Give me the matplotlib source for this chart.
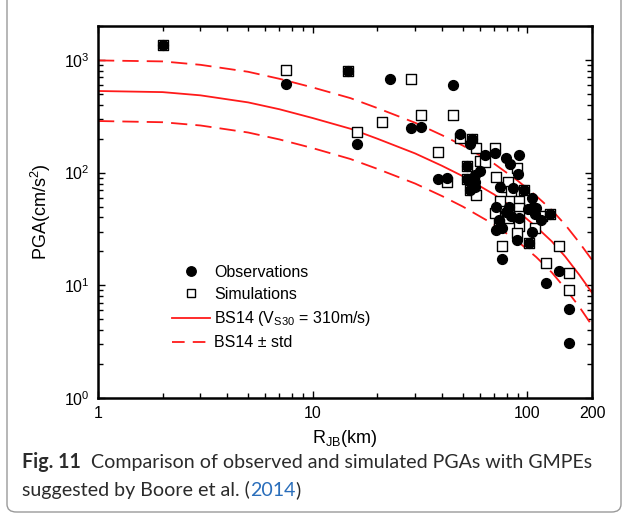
# PGA vs Joyner-Boore distance
# Observed and simulated PGAs against the BS14 GMPE (Boore et al. 2014)

import matplotlib
matplotlib.use("Agg")
import matplotlib.pyplot as plt
from matplotlib.lines import Line2D
from matplotlib.legend_handler import HandlerLine2D
from matplotlib.patches import FancyBboxPatch
from matplotlib.ticker import LogLocator, NullFormatter

# ─── DATA ─────────────────────────────────────────────────────
# BS14 median and +/- one standard deviation
GMPE_R      = [1, 2, 3, 5, 7, 10, 15, 20, 30, 40, 50, 70, 90, 110, 130, 150, 175, 200]
GMPE_MEDIAN = [530, 518, 485, 420, 365, 305, 245, 200, 148, 115, 93, 64, 45.5, 33, 24.5, 18, 12.3, 8.6]
GMPE_UPPER  = [990, 970, 905, 785, 680, 570, 458, 374, 277, 215, 174, 120, 85, 62, 46.5, 34.5, 23.8, 16.8]
GMPE_LOWER  = [287, 280, 262, 227, 197, 165, 132, 108, 80, 62, 50, 34.6, 24.6, 17.8, 13, 9.4, 6.4, 4.4]

# observations (filled circles)
OBS_R   = [2.0, 7.5, 14.6, 16.0, 22.8, 28.7, 32.0, 45.0, 48.3, 55.0, 54.3, 38.3, 42.3,
           71, 63.8, 79.6, 91.2, 83.2, 90, 52.4, 60.4, 57, 57, 52.4, 74.9, 85.6, 96.8,
           53.8, 57, 105, 71.5, 82, 100.6, 106, 110, 79.6, 84, 91.7, 108.8, 127, 115.6,
           74, 76.3, 71.5, 104.6, 89.6, 101.4, 76.3, 140, 122, 157, 157]
OBS_PGA = [1360, 610, 800, 180, 680, 247, 252, 597, 220, 197, 179, 88, 89,
           149, 143, 135, 143, 119, 97, 114, 104, 95, 82, 87, 75, 73, 70,
           70, 74, 60, 49.3, 50, 47.7, 50, 48.7, 44.6, 40.8, 39.7, 43, 42.5, 37.6,
           37.6, 32, 30.7, 30, 25.4, 23.7, 17.2, 13.3, 10.4, 6.1, 3.1]

# simulations (open squares)
SIM_R   = [2.0, 7.5, 14.6, 16.0, 21.0, 28.7, 32.0, 45.0, 48.3, 55.0, 57.7, 38.3, 42.3,
           71, 60.4, 63.8, 89.6, 52.4, 52.4, 71.5, 79.6, 81, 83.5, 96.8, 53.8, 57.7,
           74.7, 91, 91, 71, 81, 91.7, 116.9, 127, 74, 91.7, 89.6, 108, 101.4, 76.3,
           140, 122, 157, 157]
SIM_PGA = [1360, 816, 800, 227, 280, 675, 324, 324, 203, 197, 164, 151, 82,
           164, 128, 125, 111, 114, 87, 92, 75, 83, 68, 70, 70, 63,
           56.5, 56.5, 49, 43.6, 39.7, 41.6, 41.6, 42.5, 35, 33.3, 29.3, 32, 23.7, 22.1,
           22.1, 15.9, 12.9, 9.0]

# ─── STYLE ────────────────────────────────────────────────────
plt.rcParams["font.family"] = ["Liberation Sans", "DejaVu Sans"]
plt.rcParams["mathtext.fontset"] = "custom"
plt.rcParams["mathtext.rm"] = "Liberation Sans"
plt.rcParams["mathtext.it"] = "Liberation Sans:italic"
plt.rcParams["mathtext.default"] = "regular"

W, H = 626, 521
RED = "#ff1a1a"
DASH = (9, 4.5)

fig = plt.figure(figsize=(W / 100, H / 100), dpi=100)

# light rounded frame around the figure block
frame = FancyBboxPatch((7 / W, 9 / H), 614 / W, 560 / H,
                       boxstyle="round,pad=0,rounding_size=0.015",
                       transform=fig.transFigure, facecolor="none",
                       edgecolor="#9a9a9a", linewidth=1.0, clip_on=False)
fig.patches.append(frame)

ax = fig.add_axes([98 / W, 1 - 398 / H, 494 / W, 372 / H])

# ─── PLOT ─────────────────────────────────────────────────────
ax.plot(GMPE_R, GMPE_MEDIAN, color=RED, linewidth=1.3)
ax.plot(GMPE_R, GMPE_UPPER, color=RED, linewidth=1.3, dashes=DASH)
ax.plot(GMPE_R, GMPE_LOWER, color=RED, linewidth=1.3, dashes=DASH)

ax.scatter(SIM_R, SIM_PGA, marker="s", s=46, facecolor="white",
           edgecolor="black", linewidth=1.0, zorder=3)
ax.scatter(OBS_R, OBS_PGA, marker="o", s=50, color="black", zorder=4)

ax.set_xscale("log")
ax.set_yscale("log")
ax.set_xlim(1, 200)
ax.set_ylim(1, 2000)

ax.set_xticks([1, 10, 100, 200])
ax.set_xticklabels(["1", "10", "100", "200"])
ax.xaxis.set_minor_locator(LogLocator(base=10, subs=range(2, 10)))
ax.xaxis.set_minor_formatter(NullFormatter())
ax.set_yticks([1, 10, 100, 1000])
ax.set_yticklabels([r"$10^0$", r"$10^1$", r"$10^2$", r"$10^3$"])
ax.yaxis.set_minor_locator(LogLocator(base=10, subs=range(2, 10)))
ax.yaxis.set_minor_formatter(NullFormatter())

ax.tick_params(which="both", direction="in", top=True, right=True,
               labelsize=11.5, width=1.0, pad=6)
ax.tick_params(which="major", length=5)
ax.tick_params(which="minor", length=3.5)
for sp in ax.spines.values():
    sp.set_linewidth(1.8)

ax.set_xlabel(r"R$_{JB}$(km)", fontsize=13, labelpad=5)
ax.set_ylabel(r"PGA(cm/s$^2$)", fontsize=13, labelpad=8)

# ─── LEGEND ───────────────────────────────────────────────────
class RightMarker(HandlerLine2D):
    # put the single marker near the right end of the handle
    def get_xdata(self, legend, xdescent, ydescent, width, height, fontsize):
        xdata = [-xdescent, -xdescent + width]
        return xdata, [-xdescent + 0.92 * width]

handles = [
    Line2D([], [], marker="o", color="black", linestyle="none", markersize=6.8),
    Line2D([], [], marker="s", markerfacecolor="white", markeredgecolor="black",
           linestyle="none", markersize=6.2, markeredgewidth=1.0),
    Line2D([], [], color=RED, linewidth=1.3),
    Line2D([], [], color=RED, linewidth=1.3, dashes=(7, 4.5)),
]
labels = ["Observations", "Simulations",
          r"BS14 (V$_{S30}$ = 310m/s)", "BS14 ± std"]
ax.legend(handles, labels, loc="upper left", bbox_to_anchor=(0.137, 0.375),
          frameon=False, fontsize=11.5, handlelength=2.4, handletextpad=0.25,
          labelspacing=0.45, borderaxespad=0,
          handler_map={h: RightMarker() for h in handles[:2]})

# ─── CAPTION ──────────────────────────────────────────────────
def put_pieces(x, y, pieces):
    # draw text pieces one after the other on one line
    renderer = fig.canvas.get_renderer()
    for txt, kw in pieces:
        t = fig.text(x, y, txt, fontsize=14.1, family="Lato",
                     va="baseline", ha="left", **kw)
        bb = t.get_window_extent(renderer=renderer)
        x = bb.x1 / W

cap_color = "#2b2b2b"
put_pieces(22 / W, 1 - 468 / H, [
    ("Fig. 11", dict(weight="bold", color=cap_color)),
    ("  Comparison of observed and simulated PGAs with GMPEs", dict(color=cap_color)),
])
put_pieces(22 / W, 1 - 496 / H, [
    ("suggested by Boore et al. (", dict(color=cap_color)),
    ("2014", dict(color="#2a6ebb")),
    (")", dict(color=cap_color)),
])

fig.savefig("out.png", dpi=100)
